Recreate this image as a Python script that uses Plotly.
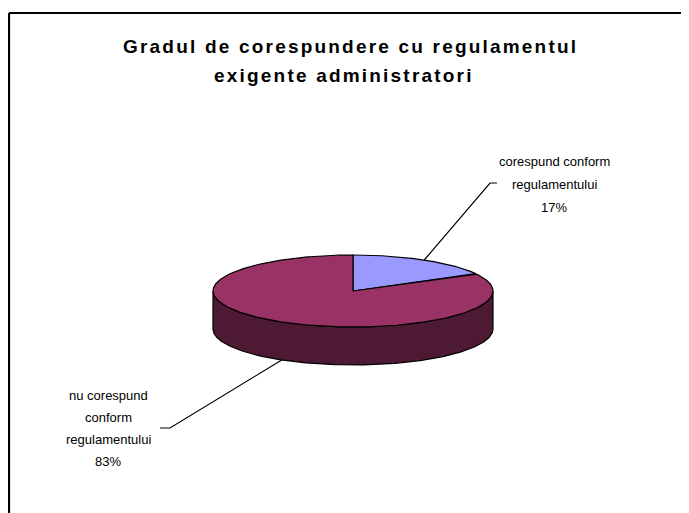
import numpy as np
import plotly.graph_objects as go

# ---- data ----
categories = ["corespund conform\nregulamentului", "nu corespund\nconform\nregulamentului"]
values = [17, 83]
colors_top = ["#9999FF", "#993366"]
colors_side = ["#4D4D80", "#4D1933"]
title_lines = ["Gradul de corespundere cu regulamentul", "exigente administratori"]

# ---- geometry (pixel space of the page) ----
W, H = 689, 513
OFF = 8  # default page body margin
cx, cy = 353, 291
rx, ry = 140, 36
depth = 38
FONT = "Liberation Sans, Arial, sans-serif"

total = float(sum(values))
fig = go.Figure()

def ell(a_deg, dy=0.0):
    a = np.radians(a_deg)
    return cx + rx * np.cos(a), cy - ry * np.sin(a) + dy

# slice angular ranges (start at 12 o'clock, clockwise)
ranges = []
start = 90.0
for v in values:
    end = start - 360.0 * v / total
    ranges.append((start, end))
    start = end

# sides (visible front half: sin < 0)
for i, (a0, a1) in enumerate(ranges):
    angs = np.linspace(a0, a1, 600)
    vis = np.sin(np.radians(angs)) < 0
    runs, cur = [], []
    for a, f in zip(angs, vis):
        if f:
            cur.append(a)
        elif cur:
            runs.append(cur); cur = []
    if cur:
        runs.append(cur)
    for run in runs:
        run = np.array(run)
        xt, yt = ell(run)
        xb, yb = ell(run[::-1], depth)
        xs = np.concatenate([xt, xb, xt[:1]])
        ys = np.concatenate([yt, yb, yt[:1]])
        fig.add_trace(go.Scatter(x=xs, y=ys, fill="toself", fillcolor=colors_side[i],
                                 mode="lines", line=dict(color="black", width=1.2),
                                 hoverinfo="skip", showlegend=False))

# tops
for i, (a0, a1) in enumerate(ranges):
    angs = np.linspace(a0, a1, 300)
    xe, ye = ell(angs)
    xs = np.concatenate([[cx], xe, [cx]])
    ys = np.concatenate([[cy], ye, [cy]])
    fig.add_trace(go.Scatter(x=xs, y=ys, fill="toself", fillcolor=colors_top[i],
                             mode="lines", line=dict(color="black", width=1.2),
                             hoverinfo="skip", showlegend=False))

# labels with leader lines
label_pos = [  # (text center x, first line y, line step, elbow x, elbow y, end x)
    (554, 161, 23, 490, 183, 497),
    (108, 395, 22.3, 170, 428, 160),
]
for i, (a0, a1) in enumerate(ranges):
    mid = (a0 + a1) / 2.0
    mx, my = ell(mid, depth if np.sin(np.radians(mid)) < 0 else 0)
    tx, ty, step, ex, ey, endx = label_pos[i]
    fig.add_trace(go.Scatter(x=[mx, ex, endx], y=[my, ey, ey], mode="lines",
                             line=dict(color="black", width=1.2),
                             hoverinfo="skip", showlegend=False))
    lines = categories[i].split("\n") + [f"{round(values[i] / total * 100)}%"]
    for k, t in enumerate(lines):
        fig.add_annotation(x=tx, y=ty + k * step, text=t, showarrow=False,
                           xanchor="center", yanchor="middle",
                           font=dict(family=FONT, size=13, color="black"))

title_x = [350, 344]
for k, t in enumerate(title_lines):
    fig.add_annotation(x=title_x[k], y=46 + k * 29,
                       text=f'<span style="letter-spacing:2.2px"><b>{t}</b></span>',
                       showarrow=False, xanchor="center", yanchor="middle",
                       font=dict(family=FONT, size=19, color="black"))

# chart frame
fig.add_shape(type="line", x0=9, x1=W + OFF, y0=13, y1=13, line=dict(color="black", width=2.2))
fig.add_shape(type="line", x0=9, x1=9, y0=13, y1=H + OFF, line=dict(color="black", width=2.2))

fig.update_layout(
    width=W, height=H, margin=dict(l=0, r=0, t=0, b=0),
    paper_bgcolor="white", plot_bgcolor="white",
    xaxis=dict(range=[OFF, W + OFF], visible=False, fixedrange=True),
    yaxis=dict(range=[H + OFF, OFF], visible=False, fixedrange=True),
    showlegend=False,
)
fig.write_html("out.html")
